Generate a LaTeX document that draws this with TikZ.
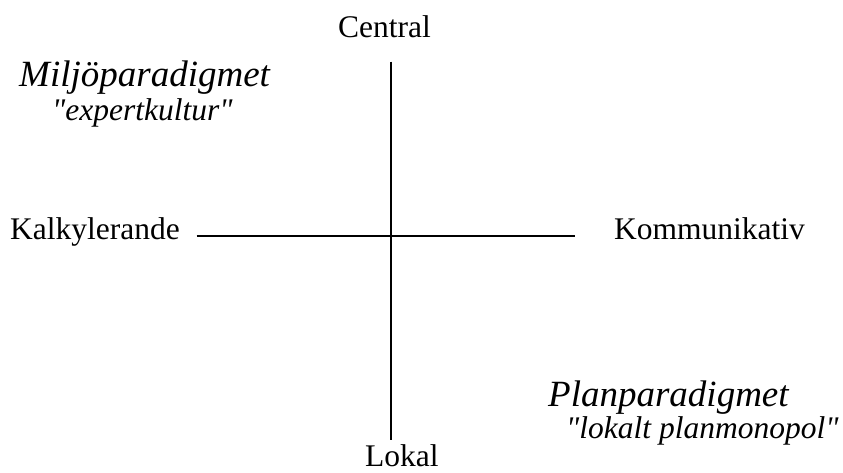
\documentclass[tikz,border=0pt]{standalone}
\usepackage{fontspec}
\setmainfont{Liberation Serif}[Ligatures=TeXOff]
\begin{document}
\begin{tikzpicture}[x=1pt,y=-1pt,
  lab/.style={inner sep=0pt,anchor=base west,font=\fontsize{31.5}{36}\selectfont},
  title/.style={inner sep=0pt,anchor=base west,font=\fontsize{37}{42}\selectfont\itshape},
  sub/.style={inner sep=0pt,anchor=base west,font=\fontsize{31.5}{36}\selectfont\itshape},
  axis/.style={line width=1.6pt}]
\useasboundingbox (0,0) rectangle (843,473);
\node[lab] (central) at (338,37.7) {Central};
\node[lab] (kalk) at (10,239.3) {Kalkylerande};
\node[lab] (komm) at (614,240) {Kommunikativ};
\node[lab] (lokal) at (365,466.7) {Lokal};
\node[title] (milj) at (19,86.7) {Miljöparadigmet};
\node[sub] (exp) at (52,120.7) {"expertkultur"};
\node[title] (plan) at (548,406.7) {Planparadigmet};
\node[sub] (lok) at (566,438.3) {"lokalt planmonopol"};
\coordinate (top) at (391,61.7);
\coordinate (bot) at (391,440);
\coordinate (left) at (196.7,236);
\coordinate (right) at (575,236);
\draw[axis] (top) -- (bot);
\draw[axis] (left) -- (right);
\end{tikzpicture}
\end{document}
